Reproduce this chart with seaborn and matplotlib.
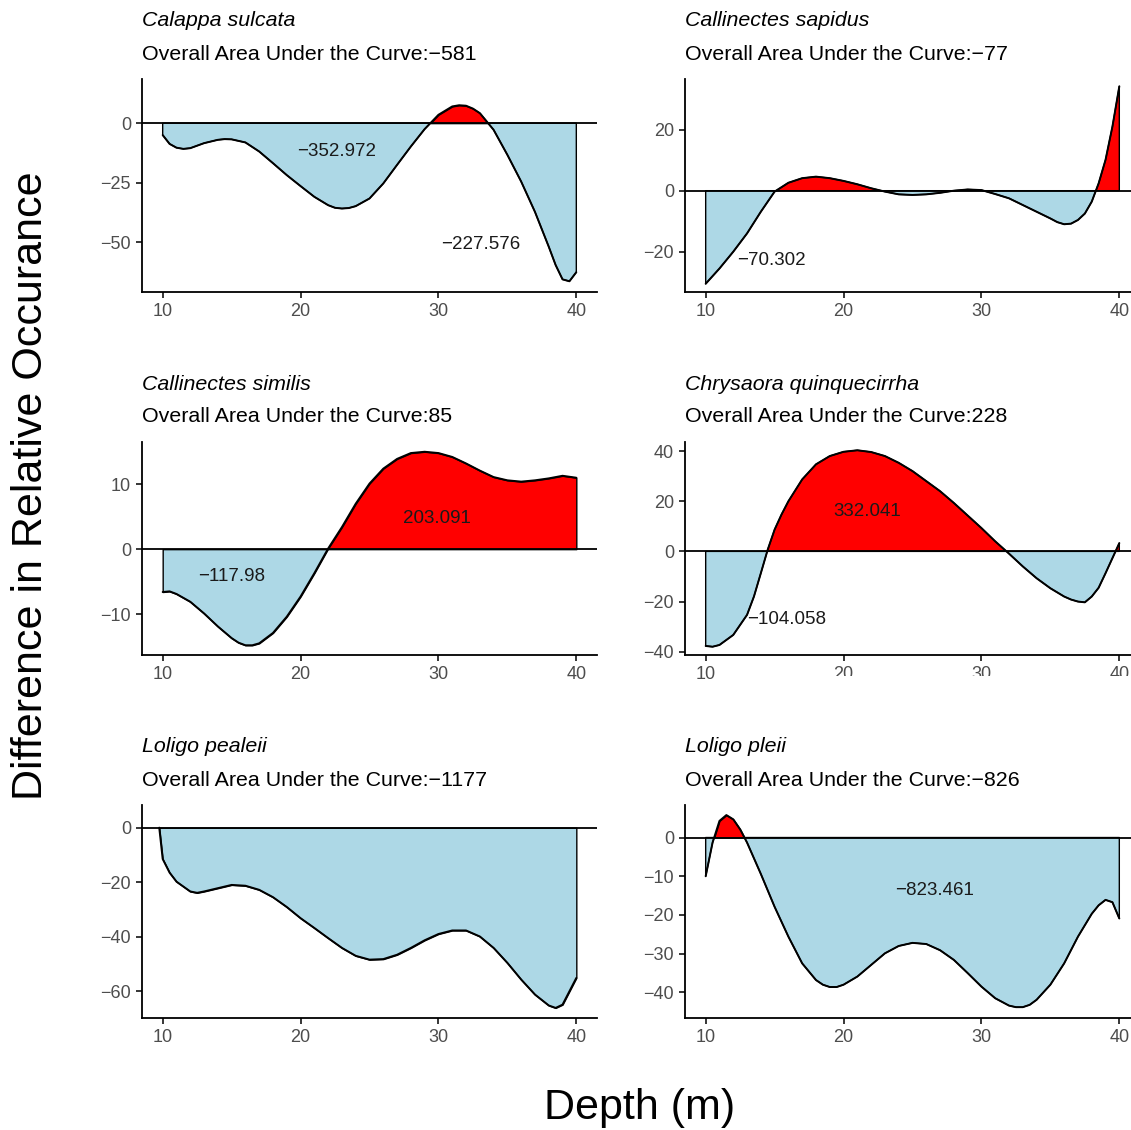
import numpy as np
import pandas as pd
import matplotlib
matplotlib.use("Agg")
import matplotlib.pyplot as plt
from matplotlib.patches import Rectangle
import seaborn as sns

# ---------------- data ----------------
species = ["Calappa sulcata", "Callinectes sapidus", "Callinectes similis",
           "Chrysaora quinquecirrha", "Loligo pealeii", "Loligo pleii"]
overall_auc = ["\u2212581", "\u221277", "85", "228", "\u22121177", "\u2212826"]

depth_calappa = [10, 10.5, 11, 11.5, 12, 13, 14, 14.5, 15, 16, 17, 18, 19, 20, 21, 22, 22.5, 23,
                 23.5, 24, 25, 26, 27, 28, 29, 30, 31, 31.5, 32, 32.5, 33, 34, 35, 36, 37, 38,
                 38.5, 39, 39.5, 40]
diff_calappa = [-5, -8.7, -10.3, -10.8, -10.5, -8.4, -7.0, -6.7, -6.8, -8.1, -11.9, -16.8, -21.8,
                -26.4, -30.9, -34.4, -35.5, -35.8, -35.6, -34.8, -31.6, -25.3, -17.5, -9.8, -2.5,
                3.5, 7.0, 7.5, 7.3, 6.1, 4.2, -2.8, -13.3, -24.5, -37.2, -51.8, -59.5, -65.5,
                -66.3, -62.5]

depth_sapidus = [10, 11, 12, 13, 14, 15, 16, 17, 18, 19, 20, 21, 22, 23, 24, 25, 26, 27, 28, 29,
                 30, 31, 32, 33, 34, 35, 35.5, 36, 36.5, 37, 37.5, 38, 38.5, 39, 39.5, 40]
diff_sapidus = [-30.5, -25.5, -20, -14, -6.9, -0.3, 2.6, 4.1, 4.6, 4.1, 3.2, 2.1, 0.8, -0.3, -1.2,
                -1.4, -1.2, -0.7, 0.0, 0.4, 0.2, -1.1, -2.5, -4.7, -6.9, -9.1, -10.3, -11.0,
                -10.8, -9.6, -7.5, -3.6, 2.4, 10.1, 21.0, 34.2]

depth_similis = [10, 10.5, 11, 12, 13, 14, 15, 15.5, 16, 16.5, 17, 18, 19, 20, 21, 22, 23, 24, 25,
                 26, 27, 28, 29, 30, 31, 32, 33, 34, 35, 36, 37, 38, 39, 40]
diff_similis = [-6.6, -6.5, -6.9, -8.1, -9.9, -11.9, -13.7, -14.4, -14.8, -14.8, -14.5, -12.9,
                -10.4, -7.3, -3.7, 0.1, 3.4, 7.0, 10.1, 12.4, 13.9, 14.8, 15.0, 14.8, 14.2, 13.2,
                12.1, 11.1, 10.6, 10.4, 10.6, 10.9, 11.3, 11.0]

depth_chrysaora = [10, 10.5, 11, 12, 13, 13.5, 14, 14.5, 15, 15.5, 16, 17, 18, 19, 20, 21, 22, 23,
                   24, 25, 26, 27, 28, 29, 30, 31, 32, 33, 34, 35, 36, 36.5, 37, 37.5, 38, 38.5,
                   39, 40]
diff_chrysaora = [-37.7, -38.0, -37.3, -33.3, -25.3, -18.0, -8.7, 0.7, 8.7, 14.7, 20.0, 28.7,
                  34.7, 38.0, 39.7, 40.3, 39.6, 38.0, 35.3, 32.0, 28.0, 24.0, 19.3, 14.3, 9.3,
                  4.0, -0.9, -6.0, -10.7, -14.7, -18.0, -19.2, -20.0, -20.3, -18.0, -14.5, -8.7,
                  3.3]

depth_pealeii = [9.75, 10, 10.5, 11, 12, 12.5, 13, 14, 15, 16, 17, 18, 19, 20, 21, 22, 23, 24,
                 25, 26, 27, 28, 29, 30, 31, 32, 33, 34, 35, 36, 37, 38, 38.5, 39, 40]
diff_pealeii = [0, -11.5, -16.5, -19.8, -23.4, -23.9, -23.4, -22.2, -21.0, -21.3, -22.8, -25.5,
                -29.1, -33.2, -36.8, -40.5, -44.1, -47.0, -48.4, -48.2, -46.6, -44.1, -41.3,
                -39.0, -37.7, -37.7, -39.9, -44.1, -49.6, -55.7, -61.2, -65.2, -66.1, -64.9,
                -55.1]

depth_pleii = [10, 10.5, 11, 11.5, 12, 12.5, 13, 14, 15, 16, 17, 18, 18.5, 19, 19.5, 20, 21, 22,
               23, 24, 25, 26, 27, 28, 29, 30, 31, 32, 32.5, 33, 33.5, 34, 35, 36, 37, 38, 38.5,
               39, 39.5, 40]
diff_pleii = [-10.0, -1.3, 4.3, 5.8, 4.7, 2.1, -1.3, -9.4, -17.9, -25.6, -32.5, -36.8, -38.0,
              -38.6, -38.6, -38.0, -35.9, -32.9, -29.9, -28.0, -27.2, -27.5, -29.1, -31.6, -35.0,
              -38.5, -41.5, -43.4, -43.8, -43.8, -43.2, -41.9, -38.0, -32.5, -25.6, -19.7,
              -17.5, -16.1, -16.7, -20.9]

# area annotations per panel
label_text = [["\u2212352.972", "\u2212227.576"], ["\u221270.302"], ["\u2212117.98", "203.091"],
              ["\u2212104.058", "332.041"], [], ["\u2212823.461"]]
label_x = [[22.6, 33.1], [14.8], [15.0, 29.9], [15.9, 21.7], [], [26.6]]
label_y = [[-11.9, -51.0], [-22.8], [-4.2, 4.7], [-27.3, 16.0], [], [-13.8]]

x_ticks = [10, 20, 30, 40]
y_ticks = [[-50, -25, 0], [-20, 0, 20], [-10, 0, 10], [-40, -20, 0, 20, 40],
           [-60, -40, -20, 0], [-40, -30, -20, -10, 0]]
y_limits = [(-70.8, 18.5), (-33.2, 36.6), (-16.3, 16.5), (-41.3, 43.6),
            (-69.8, 8.3), (-46.6, 8.4)]

depths = [depth_calappa, depth_sapidus, depth_similis, depth_chrysaora, depth_pealeii, depth_pleii]
diffs = [diff_calappa, diff_sapidus, diff_similis, diff_chrysaora, diff_pealeii, diff_pleii]

# ---------------- style ----------------
sns.set_theme(style="ticks")
plt.rcParams["font.family"] = ["Liberation Sans", "DejaVu Sans"]

W, H = 1131, 1130
fig = plt.figure(figsize=(W / 100, H / 100), dpi=100)

# axes boxes in pixels: (left, top, right, bottom)
boxes = [(142, 79, 597, 292), (685, 79, 1140, 292),
         (142, 442, 597, 655), (685, 442, 1140, 655),
         (142, 805, 597, 1018), (685, 805, 1140, 1018)]
title_y = [(21, 54), (21, 54), (384, 417), (384, 417), (747, 780), (747, 780)]

for i in range(6):
    l, t, r, b = boxes[i]
    ax = fig.add_axes([l / W, 1 - b / H, (r - l) / W, (b - t) / H])
    df = pd.DataFrame({"depth": depths[i], "diff": diffs[i]})
    xv = df["depth"].to_numpy()
    yv = df["diff"].to_numpy()
    ax.fill_between(xv, yv, 0, where=yv <= 0, interpolate=True, facecolor="#ADD8E6",
                    edgecolor="black", linewidth=1.0, zorder=1)
    ax.fill_between(xv, yv, 0, where=yv >= 0, interpolate=True, facecolor="#FF0000",
                    edgecolor="black", linewidth=1.0, zorder=1)
    sns.lineplot(data=df, x="depth", y="diff", ax=ax, color="black", linewidth=1.4,
                 estimator=None, sort=False, zorder=3, solid_joinstyle="round",
                 solid_capstyle="round")
    ax.axhline(0, color="black", linewidth=1.3, zorder=4)
    for tx, ty, tt in zip(label_x[i], label_y[i], label_text[i]):
        ax.text(tx, ty, tt, ha="center", va="center", fontsize=13.5, color="#1a1a1a", zorder=5)
    ax.set_xlim(8.5, 41.5)
    ax.set_ylim(*y_limits[i])
    ax.set_xticks(x_ticks)
    ax.set_yticks(y_ticks[i])
    ax.set_xlabel("")
    ax.set_ylabel("")
    for s in ["top", "right"]:
        ax.spines[s].set_visible(False)
    for s in ["left", "bottom"]:
        ax.spines[s].set_color("black")
        ax.spines[s].set_linewidth(1.3)
    ax.tick_params(axis="both", colors="black", labelcolor="#4D4D4D", labelsize=13,
                   length=4, width=1.1, pad=4)
    ax.set_facecolor("white")
    ax.grid(False)

    fig.text(l / W, 1 - title_y[i][0] / H, species[i], fontsize=15.4, fontstyle="italic",
             ha="left", va="center", color="black")
    fig.text(l / W, 1 - title_y[i][1] / H, "Overall Area Under the Curve:" + overall_auc[i],
             fontsize=15.4, ha="left", va="center", color="black")

# white band clipping the middle-right tick labels (as in the reference)
fig.patches.append(Rectangle((722 / W, 1 - 705 / H), (W - 722) / W, 29 / H,
                             transform=fig.transFigure, facecolor="white",
                             edgecolor="none", zorder=10))

fig.text(640 / W, 1 - 1108 / H, "Depth (m)", fontsize=31, ha="center", va="center",
         color="black")
fig.text(31 / W, 1 - 486 / H, "Difference in Relative Occurance", fontsize=31,
         rotation=90, ha="center", va="center", color="black")

fig.savefig("out.png", dpi=100, facecolor="white")
